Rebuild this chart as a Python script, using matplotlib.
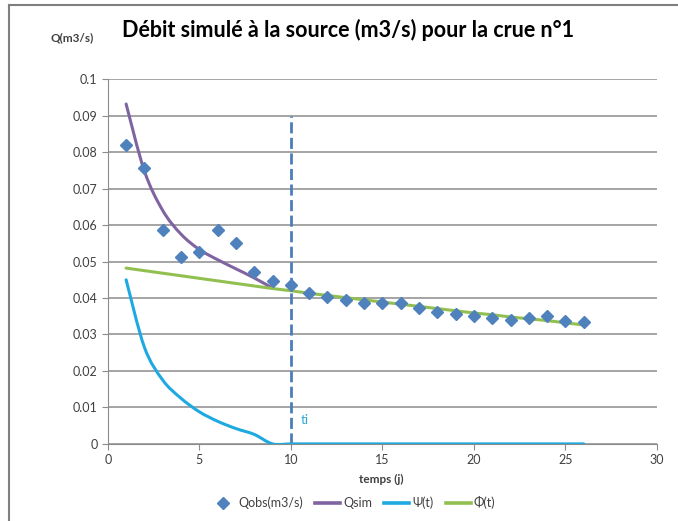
import numpy as np
import matplotlib
matplotlib.use("Agg")
import matplotlib.pyplot as plt
from matplotlib.lines import Line2D
from matplotlib.path import Path
from matplotlib.patches import PathPatch

plt.rcParams['font.family'] = ['Lato', 'DejaVu Sans']

# jours
t_obs = list(range(1, 27))
q_obs = [0.0819, 0.0756, 0.0586, 0.0512, 0.0526, 0.0586, 0.0551, 0.0471, 0.0447, 0.0436,
         0.0413, 0.0403, 0.0395, 0.0387, 0.0386, 0.0386, 0.0373, 0.0362, 0.0356, 0.0351,
         0.0346, 0.0341, 0.0345, 0.0350, 0.0337, 0.0334]

t_sim = list(range(1, 10))
q_sim = [0.0932, 0.0748, 0.0640, 0.0575, 0.0533, 0.0505, 0.0480, 0.0455, 0.0427]

t_psi = list(range(1, 27))
psi = [0.0450, 0.0265, 0.0175, 0.0125, 0.0088, 0.0062, 0.0042, 0.0026, 0.0, 0.0,
       0.0, 0.0, 0.0, 0.0, 0.0, 0.0, 0.0, 0.0, 0.0, 0.0,
       0.0, 0.0, 0.0, 0.0, 0.0, 0.0]

t_phi = list(range(1, 27))
phi = [0.0482, 0.0475, 0.0468, 0.0461, 0.0454, 0.0447, 0.0440, 0.0433, 0.0426, 0.0420,
       0.0413, 0.0407, 0.0401, 0.0395, 0.0389, 0.0383, 0.0377, 0.0371, 0.0365, 0.0359,
       0.0354, 0.0348, 0.0343, 0.0338, 0.0332, 0.0326]

ti = 10
ti_top = 0.09

series = [('Qsim', t_sim, q_sim, '#8064a2'),
          ('Ψ(t)', t_psi, psi, '#1fa9e1'),
          ('Φ(t)', t_phi, phi, '#92c050')]


def courbe_lissee(ax, x, y, color, lw):
    # ligne lissee facon Excel (bezier passant par les points)
    x = np.asarray(x, float)
    y = np.asarray(y, float)
    verts = [(x[0], y[0])]
    codes = [Path.MOVETO]
    n = len(x)
    for i in range(n - 1):
        x0, y0 = (x[i - 1], y[i - 1]) if i > 0 else (x[i], y[i])
        x3, y3 = (x[i + 2], y[i + 2]) if i + 2 < n else (x[i + 1], y[i + 1])
        c1 = (x[i] + (x[i + 1] - x0) / 6, y[i] + (y[i + 1] - y0) / 6)
        c2 = (x[i + 1] - (x3 - x[i]) / 6, y[i + 1] - (y3 - y[i]) / 6)
        verts += [c1, c2, (x[i + 1], y[i + 1])]
        codes += [Path.CURVE4] * 3
    p = PathPatch(Path(verts, codes), fill=False, edgecolor=color, lw=lw,
                  capstyle='round', joinstyle='round', zorder=4)
    ax.add_patch(p)


fig = plt.figure(figsize=(6.78, 5.21), dpi=100)
ax = fig.add_axes([0.159, 0.148, 0.81, 0.70])

grey = '#8c8c8c'
txt = '#404040'

ax.plot(t_obs, q_obs, linestyle='none', marker='D', markersize=6.5,
        color='#4f81bd', zorder=5)
handles = [Line2D([], [], linestyle='none', marker='D', markersize=6, color='#4f81bd')]
labels = ['Qobs(m3/s)']
for nom, xs, ys, c in series:
    courbe_lissee(ax, xs, ys, c, 2.2)
    handles.append(Line2D([], [], color=c, lw=2.6))
    labels.append(nom)

ax.plot([ti, ti], [0, ti_top], color='#4a7ebb', lw=2, linestyle=(0, (4, 1.6)), zorder=3)
ax.text(ti + 0.55, 0.0055, 'ti', color='#31a9d6', fontsize=9.5)

ax.set_xlim(0, 30)
ax.set_ylim(0, 0.1)
ax.set_xticks(np.arange(0, 31, 5))
ax.set_yticks(np.arange(0, 0.101, 0.01))
ax.set_yticklabels(['0', '0.01', '0.02', '0.03', '0.04', '0.05', '0.06', '0.07',
                    '0.08', '0.09', '0.1'])
ax.yaxis.grid(True, color=grey, lw=1.1)
ax.set_axisbelow(True)
for s in ['top', 'right']:
    ax.spines[s].set_visible(False)
for s in ['left', 'bottom']:
    ax.spines[s].set_color(grey)
ax.tick_params(colors=grey, labelcolor=txt, labelsize=9, length=4, direction='out')

fig.text(0.563, 0.080, 'temps (j)', fontsize=8.5, fontweight='bold', color=txt,
         ha='center', va='center')
fig.text(0.106, 0.928, 'Q(m3/s)', fontsize=8.5, fontweight='bold', color=txt,
         ha='center', va='center')
fig.text(0.513, 0.942, 'Débit simulé à la source (m3/s) pour la crue n°1',
         fontsize=15.5, fontweight='bold', color='black', ha='center', va='center')

leg = ax.legend(handles, labels, loc='center', bbox_to_anchor=(0.446, -0.162), ncol=4,
                frameon=False, fontsize=9, handlelength=2.0, handletextpad=0.2,
                columnspacing=1.0)
for t in leg.get_texts():
    t.set_color(txt)

# cadre du graphique
fig.add_artist(Line2D([0.014, 0.014], [0, 0.99], transform=fig.transFigure,
                      color='#7f7f7f', lw=1.5))
fig.add_artist(Line2D([0.014, 1.0], [0.99, 0.99], transform=fig.transFigure,
                      color='#7f7f7f', lw=1.5))

fig.savefig('out.png', dpi=100)
